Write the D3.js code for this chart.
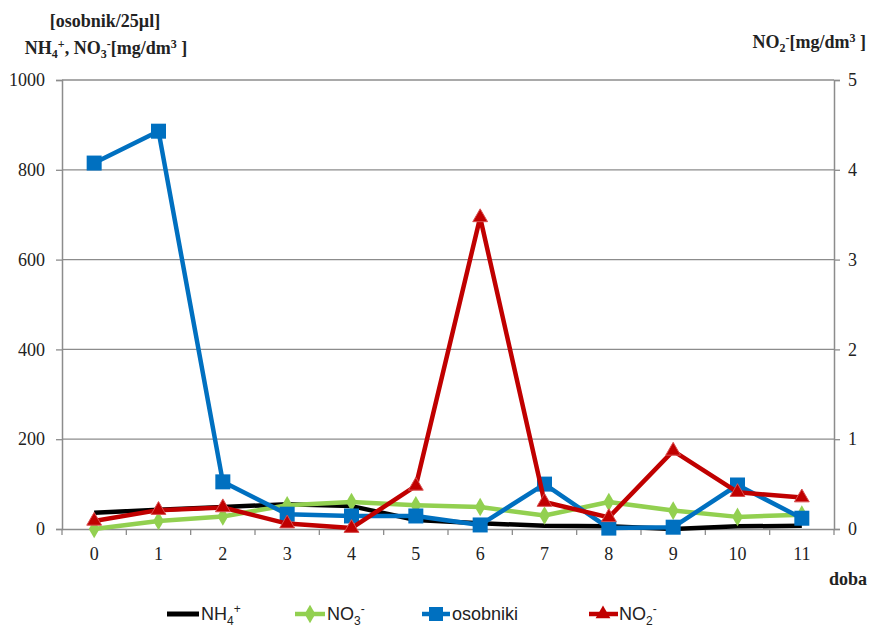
<!DOCTYPE html>
<html><head><meta charset="utf-8">
<script src="https://cdn.jsdelivr.net/npm/d3@7"></script>
<style>body{margin:0;background:#fff}</style>
</head><body>
<svg id="c" width="869" height="629"></svg>
<script>
const categories = ["0","1","2","3","4","5","6","7","8","9","10","11"];
const nh4 = [36, 43, 49, 55, 51, 20, 13, 7, 6, 0, 6, 7];
const no3 = [0, 18, 28, 53, 60, 53, 49, 30, 60, 41, 27, 32];
const osobniki = [815, 886, 105, 33, 29, 29, 9, 100, 2, 4, 98, 24];
const no2 = [0.09, 0.21, 0.24, 0.06, 0.01, 0.48, 3.47, 0.30, 0.13, 0.87, 0.41, 0.35];
const leftTicks = [0, 200, 400, 600, 800, 1000];
const rightTicks = [0, 1, 2, 3, 4, 5];

const svg = d3.select("#c");
const L = 62, R = 834, T = 80, B = 529;
const x = d3.scaleBand().domain(categories).range([L, R]);
const yL = d3.scaleLinear().domain([0, 1000]).range([B, T]);
const yR = d3.scaleLinear().domain([0, 5]).range([B, T]);
const gray = "#8c8c8c";
const serif = "'Liberation Serif', 'Times New Roman', serif";
const sans = "'Liberation Sans', Arial, sans-serif";

svg.append("g").selectAll("line").data(leftTicks.filter(d => d > 0)).join("line")
  .attr("x1", L).attr("x2", R).attr("y1", d => yL(d)).attr("y2", d => yL(d))
  .attr("stroke", gray).attr("stroke-width", 1.3);

const gl = svg.append("g").attr("transform", `translate(${L},0)`)
  .call(d3.axisLeft(yL).tickValues(leftTicks).tickFormat(d3.format("d")).tickSize(6).tickPadding(11));
const gr = svg.append("g").attr("transform", `translate(${R},0)`)
  .call(d3.axisRight(yR).tickValues(rightTicks).tickFormat(d3.format("d")).tickSize(6).tickPadding(8));
const gb = svg.append("g").attr("transform", `translate(0,${B})`)
  .call(d3.axisBottom(x).tickSize(0).tickPadding(18));
svg.append("g").selectAll("line").data(categories.concat(["end"])).join("line")
  .attr("x1", (d,i) => L + i * x.step()).attr("x2", (d,i) => L + i * x.step())
  .attr("y1", B).attr("y2", B + 6).attr("stroke", gray).attr("stroke-width", 1.3);

[gl, gr, gb].forEach(g => {
  g.attr("font-family", null).attr("font-size", null);
  g.select(".domain").attr("stroke", gray).attr("stroke-width", 1.5);
  g.selectAll(".tick line").attr("stroke", gray).attr("stroke-width", 1.3);
  g.selectAll("text").style("font-family", serif).style("font-size", "18px").attr("fill", "#222");
});

const cx = (d, i) => x(categories[i]) + x.bandwidth() / 2;
function drawLine(data, y, color) {
  svg.append("path").datum(data)
    .attr("fill", "none").attr("stroke", color).attr("stroke-width", 4.5)
    .attr("stroke-linejoin", "round")
    .attr("d", d3.line().x(cx).y(d => y(d)));
}
drawLine(nh4, yL, "#000000");
drawLine(no3, yL, "#92d050");
svg.append("g").selectAll("path").data(no3).join("path")
  .attr("transform", (d,i) => `translate(${cx(d,i)},${yL(d)})`)
  .attr("d", d3.symbol(d3.symbolDiamond, 100)())
  .attr("fill", "#92d050");
drawLine(osobniki, yL, "#0070c0");
svg.append("g").selectAll("rect").data(osobniki).join("rect")
  .attr("x", (d,i) => cx(d,i) - 7.5).attr("y", d => yL(d) - 7.5)
  .attr("width", 15).attr("height", 15).attr("fill", "#0070c0");
drawLine(no2, yR, "#c00000");
svg.append("g").selectAll("path").data(no2).join("path")
  .attr("transform", (d,i) => `translate(${cx(d,i)},${yR(d)})`)
  .attr("d", d3.symbol(d3.symbolTriangle, 95)())
  .attr("fill", "#c00000").attr("stroke", "#d85050").attr("stroke-width", 1);

function title(xp, yp, anchor) {
  return svg.append("text").attr("x", xp).attr("y", yp).attr("text-anchor", anchor)
    .style("font-family", serif).style("font-weight", "bold").style("font-size", "18px").attr("fill", "#222");
}
title(105, 27, "middle").text("[osobnik/25µl]");
const t2 = title(106, 54, "middle");
t2.append("tspan").text("NH");
t2.append("tspan").style("font-size", "12px").attr("dy", 4).text("4");
t2.append("tspan").style("font-size", "12px").attr("dy", -10).text("+");
t2.append("tspan").attr("dy", 6).text(", NO");
t2.append("tspan").style("font-size", "12px").attr("dy", 4).text("3");
t2.append("tspan").style("font-size", "12px").attr("dy", -10).text("-");
t2.append("tspan").attr("dy", 6).text("[mg/dm");
t2.append("tspan").style("font-size", "12px").attr("dy", -6).text("3");
t2.append("tspan").attr("dy", 6).text(" ]");

const t3 = title(866, 48, "end");
t3.append("tspan").text("NO");
t3.append("tspan").style("font-size", "12px").attr("dy", 4).text("2");
t3.append("tspan").style("font-size", "12px").attr("dy", -10).text("-");
t3.append("tspan").attr("dy", 6).text("[mg/dm");
t3.append("tspan").style("font-size", "12px").attr("dy", -6).text("3");
t3.append("tspan").attr("dy", 6).text(" ]");

title(848, 585, "middle").text("doba");

const ly = 614;
function legText(xp, parts) {
  const t = svg.append("text").attr("x", xp).attr("y", ly + 6)
    .style("font-family", sans).style("font-size", "18px").attr("fill", "#222");
  parts.forEach(p => {
    const s = t.append("tspan").text(p[0]);
    if (p[1]) s.style("font-size", "12px").attr("dy", p[1]);
  });
}
svg.append("line").attr("x1", 167).attr("x2", 199).attr("y1", ly).attr("y2", ly)
  .attr("stroke", "#000").attr("stroke-width", 5);
legText(201, [["NH"], ["4", 5], ["+", -12]]);

svg.append("line").attr("x1", 295).attr("x2", 325).attr("y1", ly).attr("y2", ly)
  .attr("stroke", "#92d050").attr("stroke-width", 4.5);
svg.append("path").attr("transform", `translate(310,${ly})`)
  .attr("d", d3.symbol(d3.symbolDiamond, 100)()).attr("fill", "#92d050");
legText(327, [["NO"], ["3", 5], ["-", -12]]);

svg.append("line").attr("x1", 422).attr("x2", 450).attr("y1", ly).attr("y2", ly)
  .attr("stroke", "#0070c0").attr("stroke-width", 4.5);
svg.append("rect").attr("x", 429).attr("y", ly - 7).attr("width", 14).attr("height", 14).attr("fill", "#0070c0");
legText(452, [["osobniki"]]);

svg.append("line").attr("x1", 589).attr("x2", 618).attr("y1", ly).attr("y2", ly)
  .attr("stroke", "#c00000").attr("stroke-width", 4.5);
svg.append("path").attr("transform", `translate(603,${ly})`)
  .attr("d", d3.symbol(d3.symbolTriangle, 95)()).attr("fill", "#c00000");
legText(619, [["NO"], ["2", 5], ["-", -12]]);
</script>
</body></html>
